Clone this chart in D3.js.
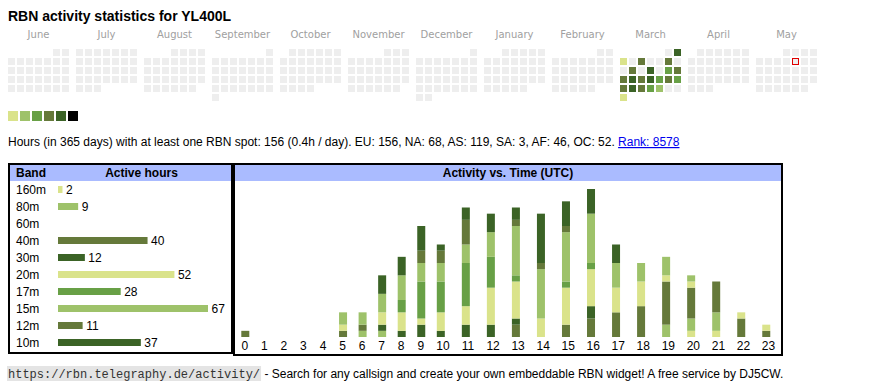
<!DOCTYPE html>
<html><head><meta charset="utf-8">
<script src="https://cdn.jsdelivr.net/npm/d3@7"></script>
<style>
html,body{margin:0;padding:0;background:#fff;}
svg{display:block;}
text{font-family:"Liberation Sans",Arial,sans-serif;}
</style></head>
<body>
<script>
// ---------- DATA ----------
const title = "RBN activity statistics for YL400L";
const monthNames = ["June","July","August","September","October","November","December","January","February","March","April","May"];
// activity level per day in March 2025 (0 = none, 1..5 = legend colours)
const marchLevels = [0,5,1,0,4,0,0,4,0,0,4,0,5,0,3,4,4,5,4,5,3,4,3,4,5,4,3,2,0,0,1];
const todayLabel = "2025-05-09";
const bands = ["160m","80m","60m","40m","30m","20m","17m","15m","12m","10m"];
const bandHours = [2,9,0,40,12,52,28,67,11,37];
const hourLabels = ["0","1","2","3","4","5","6","7","8","9","10","11","12","13","14","15","16","17","18","19","20","21","22","23"];
const h160m = [0,0,0,0,0,0,0,0,0,0,0,0,0,0,0,0,0,0,0,0,1,1,0,0];
const h80m  = [0,0,0,0,0,0,1,1,0,0,0,0,0,0,0,0,0,0,0,2,2,3,0,0];
const h60m  = [0,0,0,0,0,0,0,0,0,0,0,0,0,0,0,0,0,0,0,0,0,0,0,0];
const h40m  = [1,0,0,0,0,1,1,0,0,0,0,0,0,2,0,2,3,4,5,7,5,5,3,1];
const h30m  = [0,0,0,0,0,0,0,1,1,2,1,2,2,1,0,0,2,0,0,0,0,0,0,0];
const h20m  = [0,0,0,0,0,1,0,2,3,1,3,3,6,6,3,6,6,4,4,1,1,0,1,1];
const h17m  = [0,0,0,0,0,0,0,0,2,6,5,7,5,1,0,1,1,0,0,0,0,0,0,0];
const h15m  = [0,0,0,0,0,2,2,3,4,3,3,3,4,8,8,8,8,4,3,3,1,0,0,0];
const h12m  = [0,0,0,0,0,0,0,0,0,2,2,4,0,1,1,1,0,0,0,0,0,0,0,0];
const h10m  = [0,0,0,0,0,0,0,3,3,4,1,2,3,2,8,4,4,3,0,0,0,0,0,0];
const summaryText = "Hours (in 365 days) with at least one RBN spot: 156 (0.4h / day). EU: 156, NA: 68, AS: 119, SA: 3, AF: 46, OC: 52. ";
const rankText = "Rank: 8578";
const footerUrl = "https://rbn.telegraphy.de/activity/";
const footerText = " - Search for any callsign and create your own embeddable RBN widget! A free service by DJ5CW.";

// ---------- STYLE ----------
const C = {y:"#dae38b", l:"#9ec26a", m:"#68a046", o:"#65793a", d:"#3b6326", k:"#000000"};
const levelColors = ["#eeeeee", C.y, C.l, C.m, C.o, C.d];
const legendColors = [C.y, C.l, C.m, C.o, C.d, C.k];
const bandColor = {"160m":C.y,"80m":C.l,"60m":C.m,"40m":C.o,"30m":C.d,"20m":C.y,"17m":C.m,"15m":C.l,"12m":C.o,"10m":C.d};
const hourly = {"160m":h160m,"80m":h80m,"60m":h60m,"40m":h40m,"30m":h30m,"20m":h20m,"17m":h17m,"15m":h15m,"12m":h12m,"10m":h10m};

const svg = d3.select("body").append("svg").attr("width",870).attr("height",390);

// Title
svg.append("text").attr("x",8).attr("y",21).attr("font-size",14).attr("font-weight","bold").attr("fill","#000").text(title);

// ---------- CALENDAR ----------
const months = d3.timeMonths(new Date(2024,5,1), new Date(2025,5,1));
const mx = d3.scaleBand().domain(d3.range(12)).range([8, 817]).paddingInner(7/68).paddingOuter(0);
const dx = d3.scaleBand().domain(d3.range(7)).range([0, 61]).paddingInner(2/9).paddingOuter(0);
const wy = d3.scaleBand().domain(d3.range(6)).range([49, 49+6*9-2]).paddingInner(2/9).paddingOuter(0);
const fmt = d3.timeFormat("%Y-%m-%d");

months.forEach((m,i)=>{
  const g = svg.append("g");
  g.append("text").attr("x", mx(i)+mx.bandwidth()/2).attr("y",38).attr("text-anchor","middle")
    .attr("font-size",10).style("font-family","'DejaVu Sans',sans-serif").attr("fill","#a0a0a0").text(monthNames[i]);
  const days = d3.timeDays(m, d3.timeMonth.offset(m,1));
  g.selectAll("rect").data(days).join("rect")
    .attr("x", d=> mx(i)+dx((d.getDay()+6)%7))
    .attr("y", d=> wy(d3.timeMonday.count(m, d)))
    .attr("width", dx.bandwidth()).attr("height", wy.bandwidth())
    .attr("fill", d=> (d.getFullYear()===2025 && d.getMonth()===2) ? levelColors[marchLevels[d.getDate()-1]] : levelColors[0]);
  days.filter(d=>fmt(d)===todayLabel).forEach(d=>{
    g.append("rect").attr("x", mx(i)+dx((d.getDay()+6)%7)+0.5).attr("y", wy(d3.timeMonday.count(m,d))+0.5)
      .attr("width", dx.bandwidth()-1).attr("height", wy.bandwidth()-1)
      .attr("fill","#eeeeee").attr("stroke","#e00000").attr("stroke-width",1);
  });
});

// legend
const lx = d3.scaleBand().domain(d3.range(6)).range([8, 8+6*12-2]).paddingInner(2/12);
svg.selectAll("rect.leg").data(legendColors).join("rect").attr("class","leg")
  .attr("x",(d,i)=>lx(i)).attr("y",111).attr("width",lx.bandwidth()).attr("height",lx.bandwidth()).attr("fill",d=>d);

// summary line
const st = svg.append("text").attr("x",8).attr("y",146).attr("font-size",12).attr("fill","#000");
st.append("tspan").text(summaryText);
st.append("tspan").attr("fill","#0000ee").attr("text-decoration","underline").text(rankText);

// ---------- BAND TABLE ----------
const L = {x0:8, x1:233, y0:163, y1:354};
svg.append("rect").attr("x",L.x0+1).attr("y",L.y0+1).attr("width",L.x1-L.x0-2).attr("height",L.y1-L.y0-2)
  .attr("fill","#fff").attr("stroke","#000").attr("stroke-width",2);
svg.append("rect").attr("x",L.x0+2).attr("y",165).attr("width",L.x1-L.x0-4).attr("height",16).attr("fill","#aabbff");
svg.append("text").attr("x",16).attr("y",177).attr("font-size",12).attr("font-weight","bold").text("Band");
svg.append("text").attr("x",141.5).attr("y",177).attr("font-size",12).attr("font-weight","bold").attr("text-anchor","middle").text("Active hours");

const by = d3.scaleBand().domain(bands).range([181, 351]);
const bx = d3.scaleLinear().domain([0, d3.max(bandHours)]).range([0, 150]);
bands.forEach((b,i)=>{
  const cy = by(b)+by.bandwidth()/2;
  svg.append("text").attr("x",16).attr("y",cy+4.3).attr("font-size",12).text(b);
  if (bandHours[i]>0){
    svg.append("rect").attr("x",58).attr("y",cy-3.5).attr("width",bx(bandHours[i])).attr("height",7).attr("fill",bandColor[b]);
    svg.append("text").attr("x",58+bx(bandHours[i])+3.5).attr("y",cy+4.3).attr("font-size",12).text(bandHours[i]);
  }
});

// ---------- ACTIVITY VS TIME ----------
const R = {x0:233, x1:783, y0:163, y1:356};
svg.append("rect").attr("x",R.x0+1).attr("y",R.y0+1).attr("width",R.x1-R.x0-2).attr("height",R.y1-R.y0-2)
  .attr("fill","none").attr("stroke","#000").attr("stroke-width",2);
svg.append("rect").attr("x",R.x0+2).attr("y",165).attr("width",R.x1-R.x0-4).attr("height",16).attr("fill","#aabbff");
svg.append("text").attr("x",(R.x0+R.x1)/2).attr("y",177).attr("font-size",12).attr("font-weight","bold").attr("text-anchor","middle").text("Activity vs. Time (UTC)");

const hours = d3.range(24);
const table = hours.map(h=>{ const o={hour:h}; bands.forEach(b=>o[b]=hourly[b][h]); return o; });
const stack = d3.stack().keys(bands)(table);
const hx = d3.scaleLinear().domain([0,10,24]).range([235, 430.5, 781]);
const hy = d3.scaleLinear().domain([0, d3.max(table, d=>d3.sum(bands, b=>d[b]))]).range([337, 189]);

svg.append("g").selectAll("g").data(stack).join("g").attr("fill", s=>bandColor[s.key])
  .selectAll("rect").data(s=>s.filter(d=>d[1]>d[0])).join("rect")
  .attr("x", d=>hx(d.data.hour)+6.3).attr("width",8)
  .attr("y", d=>hy(d[1])).attr("height", d=>hy(d[0])-hy(d[1]));

svg.append("g").selectAll("text").data(hours).join("text")
  .attr("x", h=>(hx(h)+hx(h+1))/2).attr("y",349.5).attr("text-anchor","middle").attr("font-size",12)
  .text(h=>hourLabels[h]);

// ---------- FOOTER ----------
const fu = svg.append("text").attr("x",8).attr("y",378).attr("font-size",12).style("font-family","'Liberation Mono',monospace").attr("fill","#333").text(footerUrl);
const fw = fu.node().getComputedTextLength();
svg.insert("rect", () => fu.node()).attr("x",7).attr("y",366).attr("width",fw+2).attr("height",15).attr("fill","#e4e4e4");
svg.append("text").attr("x",8+fw+1).attr("y",378).attr("font-size",12).attr("fill","#000").style("white-space","pre").text(footerText);
</script>
</body></html>
